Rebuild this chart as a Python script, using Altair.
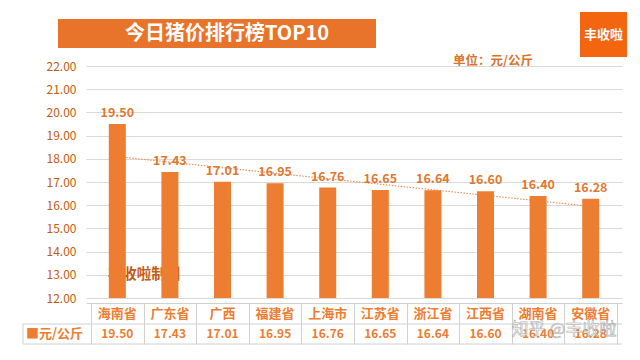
import altair as alt
import pandas as pd
import numpy as np

provinces = ["海南省", "广东省", "广西", "福建省", "上海市", "江苏省", "浙江省", "江西省", "湖南省", "安徽省"]
prices = [19.50, 17.43, 17.01, 16.95, 16.76, 16.65, 16.64, 16.60, 16.40, 16.28]
y_ticks = [12, 13, 14, 15, 16, 17, 18, 19, 20, 21, 22]
col_bounds = [-0.5, 0.5, 1.5, 2.5, 3.5, 4.5, 5.5, 6.5, 7.5, 8.5, 9.5]

df = pd.DataFrame({"idx": [float(i) for i in range(len(provinces))], "province": provinces, "price": prices})
df["label"] = [f"{p:.2f}" for p in prices]
one = pd.DataFrame({"a": [0]})

# linear (least-squares) trend line of the prices, as in the original chart
fit = np.polyfit(df["idx"], df["price"], 1)
trend_df = pd.DataFrame({"idx": [0.0, 9.0],
                         "price": [float(np.polyval(fit, 0)), float(np.polyval(fit, 9))]})

W, H = 536, 232
ORANGE = "#ED7D31"
DARK = "#C55A11"
LABEL = "#E0782F"
GRID = "#D9D9D9"
FONT = "Noto Sans CJK SC"

x = alt.X("idx:Q", scale=alt.Scale(domain=[-0.5, 9.5], nice=False, zero=False),
          axis=alt.Axis(values=col_bounds, labels=False, tickSize=41, tickColor="#D0D0D0",
                        domainColor="#D0D0D0", offset=5, grid=False, title=None))
y = alt.Y("price:Q", scale=alt.Scale(domain=[12, 22], nice=False, zero=False),
          axis=alt.Axis(values=y_ticks, format=".2f", labelColor=DARK, labelFontSize=12,
                        labelFont=FONT, labelPadding=10, ticks=False, domain=False,
                        gridColor=GRID, title=None))

base = alt.Chart(df)

trend = alt.Chart(trend_df).mark_line(color="#F08A4B", strokeDash=[1.5, 1.5], strokeWidth=1.1).encode(x=x, y=y)

bars = base.mark_bar(size=17, color=ORANGE).encode(x=x, y=y, y2=alt.datum(12))

labels = base.mark_text(dy=-11, font=FONT, fontWeight="bold", fontSize=12.5, color=LABEL).encode(
    x=x, y=y, text="label:N")

head = base.mark_text(font=FONT, fontWeight="bold", fontSize=13, color=ORANGE).encode(
    x=x, y=alt.value(247.5), text="province:N")
vals = base.mark_text(font=FONT, fontWeight="bold", fontSize=12, color=ORANGE).encode(
    x=x, y=alt.value(268), text="label:N")

deco = alt.Chart(one)
line1 = deco.mark_rule(color="#D0D0D0").encode(x=alt.value(-63), x2=alt.value(W), y=alt.value(258))
line2 = deco.mark_rule(color="#D0D0D0").encode(x=alt.value(-63), x2=alt.value(W), y=alt.value(278))
line3 = deco.mark_rule(color="#D0D0D0").encode(x=alt.value(-63), y=alt.value(258), y2=alt.value(278))
legend_txt = deco.mark_text(font=FONT, fontWeight="bold", fontSize=13, color=ORANGE).encode(
    x=alt.value(-31.5), y=alt.value(268), text=alt.value("■元/公斤"))

wm1 = deco.mark_text(font=FONT, fontWeight="bold", fontSize=14.5, color=DARK).encode(
    x=alt.value(58), y=alt.value(209), text=alt.value("丰收啦制图"))

banner = deco.mark_rect(color="#E8732A").encode(
    x=alt.value(-28), x2=alt.value(290), y=alt.value(-47), y2=alt.value(-18))
banner_txt = deco.mark_text(font=FONT, fontWeight="bold", fontSize=20, color="white").encode(
    x=alt.value(141), y=alt.value(-32.5), text=alt.value("今日猪价排行榜TOP10"))

logo = deco.mark_rect(color="#F4650F").encode(
    x=alt.value(494), x2=alt.value(541), y=alt.value(-54), y2=alt.value(-9))
logo_txt = deco.mark_text(font=FONT, fontWeight="bold", fontSize=13, color="white").encode(
    x=alt.value(517.5), y=alt.value(-31), text=alt.value("丰收啦"))

unit = deco.mark_text(font=FONT, fontWeight="bold", fontSize=12.5, color="#D9732B").encode(
    x=alt.value(407), y=alt.value(-5), text=alt.value("单位：元/公斤"))

wm2 = deco.mark_text(font=FONT, fontSize=17, color="white", stroke="#9a9a9a", strokeWidth=0.6,
                     opacity=0.8).encode(
    x=alt.value(478), y=alt.value(264), text=alt.value("知乎 @丰收啦"))

chart = alt.layer(
    line1, line2, line3, wm1, trend, bars, labels, head, vals, legend_txt,
    banner, banner_txt, logo, logo_txt, unit, wm2
).properties(
    width=W, height=H,
    padding={"left": 78, "top": 58, "right": 10, "bottom": 54},
    autosize="none",
).configure_view(stroke=None)

chart.save("out.html", embed_options={"renderer": "svg", "actions": False})
